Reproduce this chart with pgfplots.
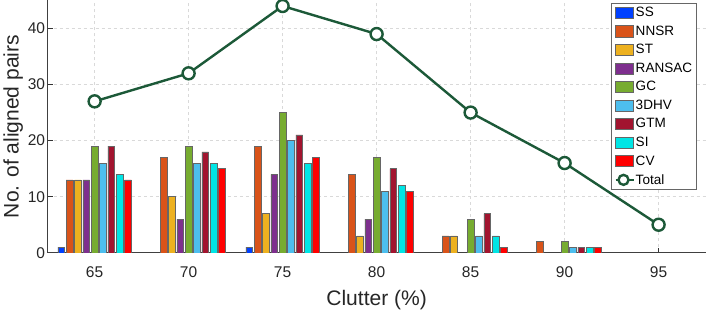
\documentclass[border=0pt]{standalone}
\usepackage{fontspec}
\setmainfont{Liberation Sans}
\usepackage{pgfplots}
\pgfplotsset{compat=1.18}
\definecolor{cSS}{rgb}{0.0,0.25,1.0}
\definecolor{cNNSR}{HTML}{D95319}
\definecolor{cST}{HTML}{EDB120}
\definecolor{cRAN}{HTML}{7E2F8E}
\definecolor{cGC}{HTML}{77AC30}
\definecolor{cHV}{HTML}{4DBEEE}
\definecolor{cGTM}{HTML}{A2142F}
\definecolor{cSI}{rgb}{0.0,0.9,0.9}
\definecolor{cCV}{rgb}{1.0,0.0,0.0}
\definecolor{cTot}{rgb}{0.11,0.35,0.22}
\pgfplotsset{
  mybar/.style n args={2}{ybar, bar width=0.355, bar shift=#2, fill=#1, draw=black!60, line width=0.5pt,
    legend image code/.code={\draw[fill=#1, draw=black!60, line width=0.5pt] (0pt,-5.5pt) rectangle (18pt,5.5pt);}},
  totleg/.style={legend image code/.code={\draw[cTot, line width=2.4pt] (0pt,0pt) -- (18pt,0pt); \draw[cTot, line width=2.4pt, fill=white] (8pt,0pt) circle (5pt);}},
}
\begin{document}
\begin{tikzpicture}
\begin{axis}[
  scale only axis, width=657pt, height=252pt,
  xmin=62.5, xmax=97.5, ymin=0, ymax=45,
  axis x line*=bottom, axis y line*=left,
  xtick={65,70,75,80,85,90,95}, ytick={0,10,20,30,40},
  grid=major, grid style={dashed, black!15, line width=0.6pt},
  tick align=inside, major tick length=5pt, tick style={black!80, line width=0.6pt},
  axis line style={black!75, line width=0.8pt},
  ticklabel style={font=\fontsize{15.5}{15.5}\selectfont, text=black!85},
  xticklabel style={yshift=-10pt},
  yticklabel style={xshift=1pt},
  /pgf/number format/assume math mode=true,
  xlabel={Clutter (\%)}, ylabel={No. of aligned pairs},
  label style={font=\fontsize{21}{21}\selectfont, text=black!85},
  xlabel style={yshift=-6pt},
  ylabel style={yshift=-2pt},
  legend style={at={(0.986,0.99)}, anchor=north east, font=\fontsize{13.5}{13.5}\selectfont,
    draw=black!60, line width=0.6pt, row sep=5.6pt, inner sep=3pt,
    nodes={inner sep=1pt}},
  legend cell align=left,
]
\addplot[mybar={cSS}{-1.7778}] coordinates {(65,1)(75,1)};
\addplot[mybar={cNNSR}{-1.3333}] coordinates {(65,13)(70,17)(75,19)(80,14)(85,3)(90,2)};
\addplot[mybar={cST}{-0.8889}] coordinates {(65,13)(70,10)(75,7)(80,3)(85,3)};
\addplot[mybar={cRAN}{-0.4444}] coordinates {(65,13)(70,6)(75,14)(80,6)};
\addplot[mybar={cGC}{0}] coordinates {(65,19)(70,19)(75,25)(80,17)(85,6)(90,2)};
\addplot[mybar={cHV}{0.4444}] coordinates {(65,16)(70,16)(75,20)(80,11)(85,3)(90,1)};
\addplot[mybar={cGTM}{0.8889}] coordinates {(65,19)(70,18)(75,21)(80,15)(85,7)(90,1)};
\addplot[mybar={cSI}{1.3333}] coordinates {(65,14)(70,16)(75,16)(80,12)(85,3)(90,1)};
\addplot[mybar={cCV}{1.7778}] coordinates {(65,13)(70,15)(75,17)(80,11)(85,1)(90,1)};
\addplot[color=cTot, line width=2.4pt, mark=*, mark size=6pt,
  mark options={fill=white, draw=cTot, line width=2.4pt}, totleg]
  coordinates {(65,27)(70,32)(75,44)(80,39)(85,25)(90,16)(95,5)};
\legend{SS,NNSR,ST,RANSAC,GC,3DHV,GTM,SI,CV,Total}
\end{axis}
\end{tikzpicture}
\end{document}
